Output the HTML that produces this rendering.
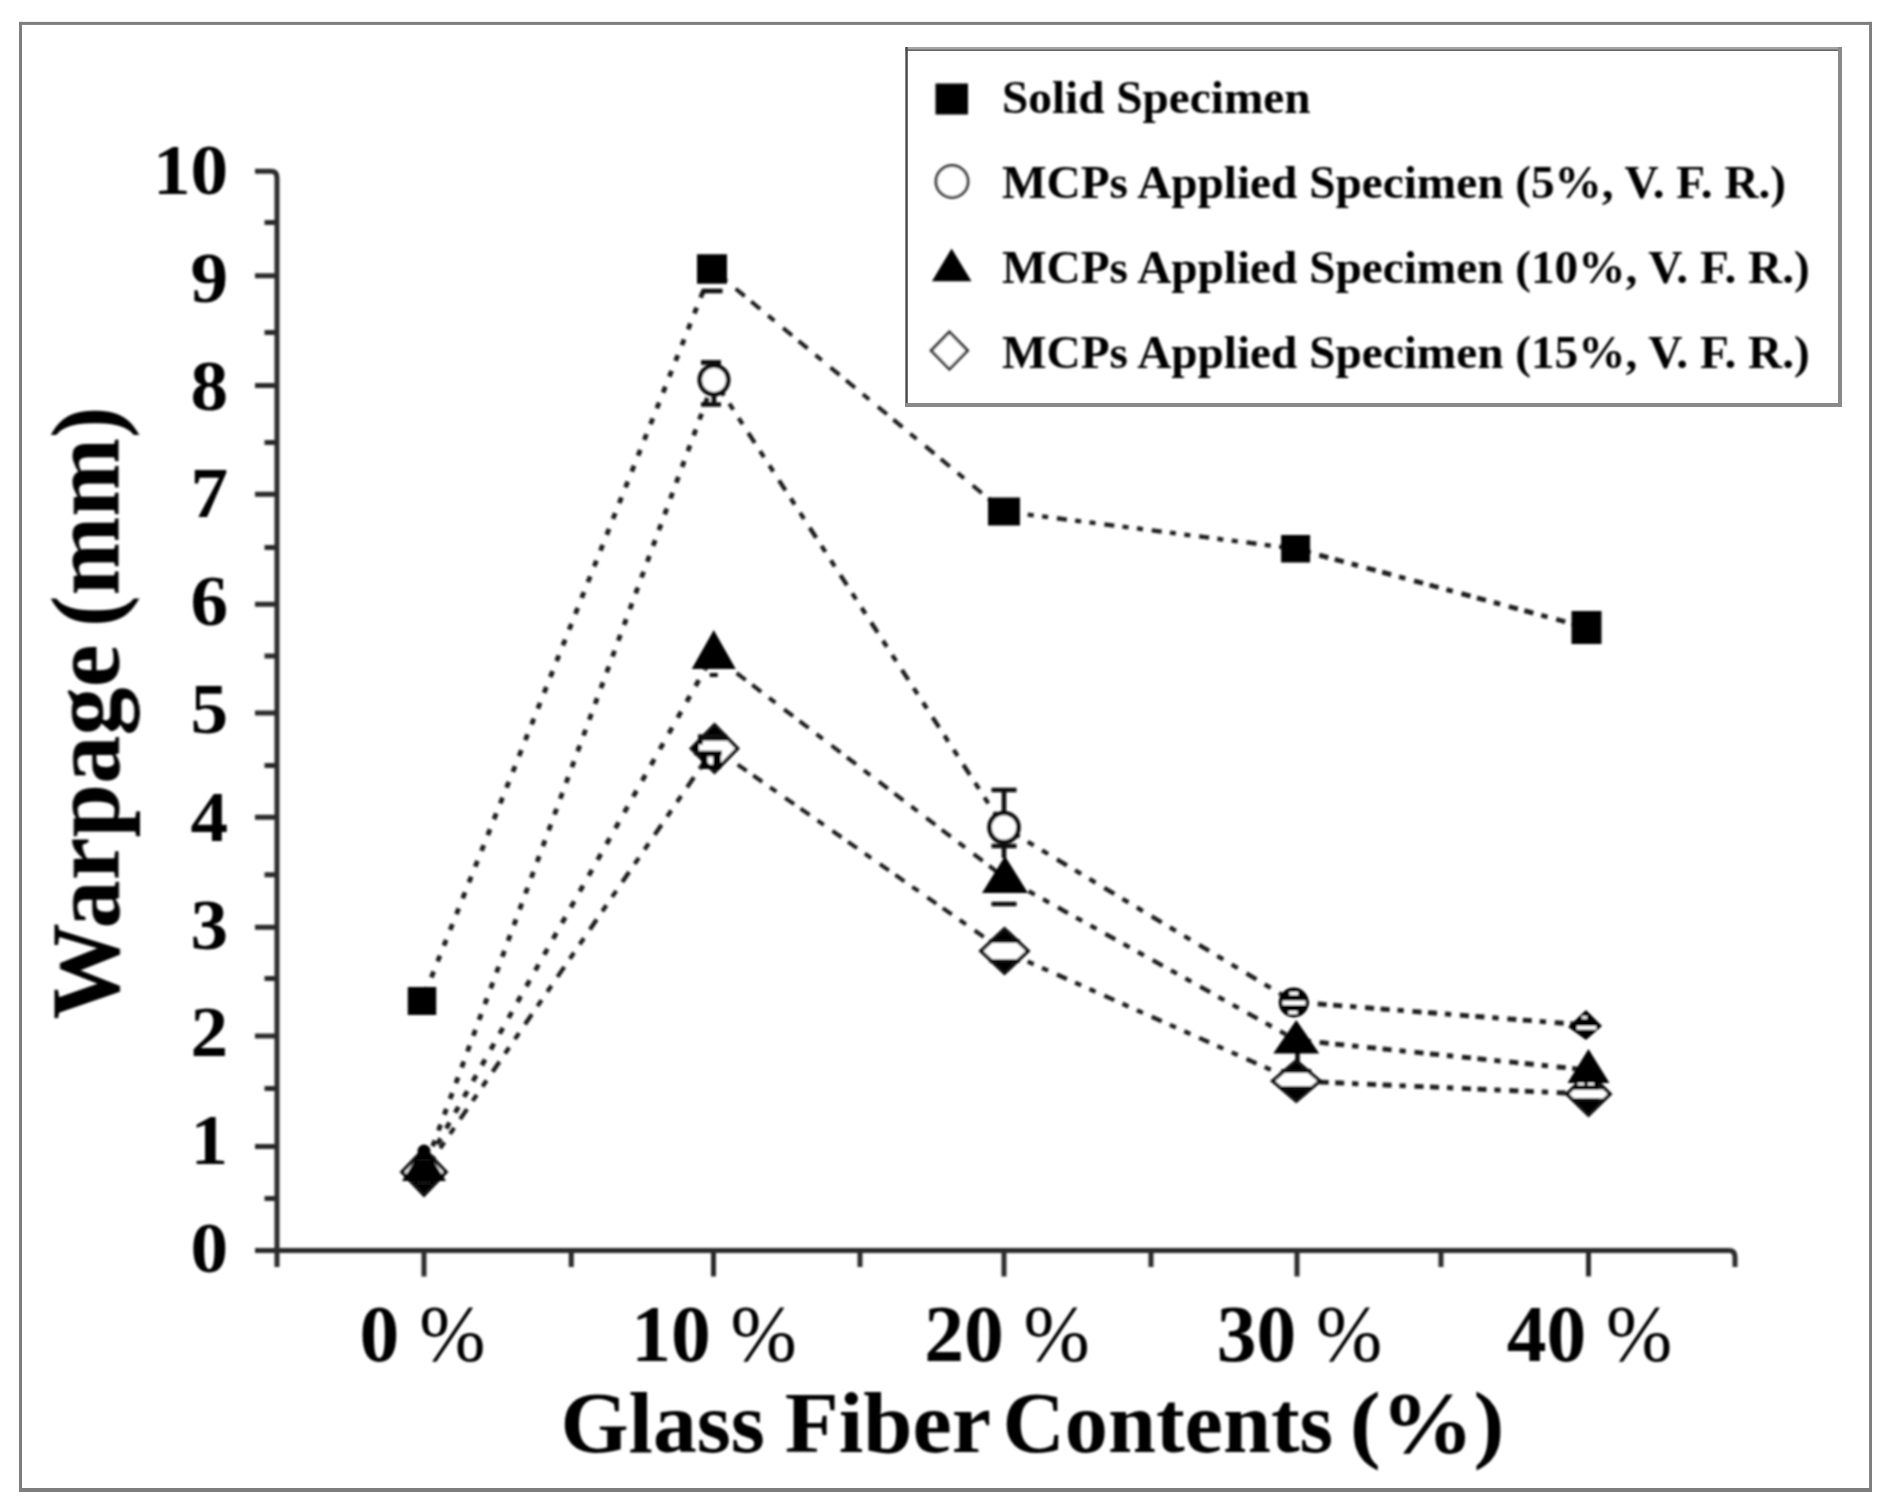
<!DOCTYPE html>
<html lang="en"><head><meta charset="utf-8"><title>Warpage vs Glass Fiber Contents</title>
<style>html,body{margin:0;padding:0;background:#fff;}body{width:1888px;height:1509px;overflow:hidden;}svg{display:block;}text{font-family:"Liberation Serif",serif;font-weight:bold;fill:#000;}</style>
</head><body>
<svg width="1888" height="1509" viewBox="0 0 1888 1509">
<defs><filter id="soft" filterUnits="userSpaceOnUse" x="0" y="0" width="1888" height="1509"><feGaussianBlur stdDeviation="0.85"/></filter></defs>
<rect x="0" y="0" width="1888" height="1509" fill="#ffffff"/>
<g id="frame" fill="#7e7e7e"><rect x="19" y="21.9" width="1853" height="3"/><rect x="19" y="21.9" width="3" height="1470"/><rect x="1869.1" y="21.9" width="2.9" height="1470"/><rect x="19" y="1488" width="1853" height="4"/></g>
<g id="legendbox"><rect x="905.3" y="47" width="936.7" height="360" fill="#fff"/><rect x="905.3" y="47" width="936.7" height="2.2" fill="#a6a6a6"/><rect x="905.3" y="49.2" width="936.7" height="1.8" fill="#666"/><rect x="905.3" y="47" width="2.5" height="360" fill="#4d4d4d"/><rect x="1838" y="47" width="4" height="360" fill="#8a8a8a"/><rect x="905.3" y="403" width="936.7" height="4" fill="#8a8a8a"/></g>
<g id="chart" filter="url(#soft)">
<g id="axes" stroke="#2a2a2a" stroke-width="5" fill="none" stroke-linecap="butt">
<path d="M255 171.3 H271 Q277 171.3 277 178 V1267"/>
<path d="M255 1250.5 H1729 Q1735 1250.5 1735 1257 V1267"/>
<line x1="255" y1="275.75" x2="277" y2="275.75"/>
<line x1="255" y1="385.5" x2="277" y2="385.5"/>
<line x1="255" y1="494.25" x2="277" y2="494.25"/>
<line x1="255" y1="604.25" x2="277" y2="604.25"/>
<line x1="255" y1="713" x2="277" y2="713"/>
<line x1="255" y1="817.25" x2="277" y2="817.25"/>
<line x1="255" y1="927.25" x2="277" y2="927.25"/>
<line x1="255" y1="1036" x2="277" y2="1036"/>
<line x1="255" y1="1146.5" x2="277" y2="1146.5"/>
<line x1="264.5" y1="222.5" x2="277" y2="222.5"/>
<line x1="264.5" y1="332.5" x2="277" y2="332.5"/>
<line x1="264.5" y1="442.5" x2="277" y2="442.5"/>
<line x1="264.5" y1="547.5" x2="277" y2="547.5"/>
<line x1="264.5" y1="656" x2="277" y2="656"/>
<line x1="264.5" y1="765.5" x2="277" y2="765.5"/>
<line x1="264.5" y1="874.75" x2="277" y2="874.75"/>
<line x1="264.5" y1="978.5" x2="277" y2="978.5"/>
<line x1="264.5" y1="1088.5" x2="277" y2="1088.5"/>
<line x1="264.5" y1="1198.5" x2="277" y2="1198.5"/>
<line x1="424" y1="1250.5" x2="424" y2="1276.5"/>
<line x1="713.5" y1="1250.5" x2="713.5" y2="1276.5"/>
<line x1="1004" y1="1250.5" x2="1004" y2="1276.5"/>
<line x1="1297" y1="1250.5" x2="1297" y2="1276.5"/>
<line x1="1588.5" y1="1250.5" x2="1588.5" y2="1276.5"/>
<line x1="571.25" y1="1250.5" x2="571.25" y2="1267"/>
<line x1="860" y1="1250.5" x2="860" y2="1267"/>
<line x1="1151" y1="1250.5" x2="1151" y2="1267"/>
<line x1="1441" y1="1250.5" x2="1441" y2="1267"/>
</g>
<g id="ylabels" font-size="71" text-anchor="end">
<text transform="translate(228.2 1271.9) scale(1.06 1)">0</text>
<text transform="translate(228.2 1164.1) scale(1.06 1)">1</text>
<text transform="translate(228.2 1056.3) scale(1.06 1)">2</text>
<text transform="translate(228.2 948.5) scale(1.06 1)">3</text>
<text transform="translate(228.2 840.7) scale(1.06 1)">4</text>
<text transform="translate(228.2 732.9) scale(1.06 1)">5</text>
<text transform="translate(228.2 625.1) scale(1.06 1)">6</text>
<text transform="translate(228.2 517.3) scale(1.06 1)">7</text>
<text transform="translate(228.2 409.5) scale(1.06 1)">8</text>
<text transform="translate(228.2 301.7) scale(1.06 1)">9</text>
<text transform="translate(228.2 193.9) scale(1.06 1)">10</text>
</g>
<g id="xlabels" font-size="79.5" text-anchor="middle">
<text x="422.5" y="1361" xml:space="preserve">0<tspan font-weight="normal"> %</tspan></text>
<text x="714" y="1361" xml:space="preserve">10<tspan font-weight="normal"> %</tspan></text>
<text x="1007" y="1361" xml:space="preserve">20<tspan font-weight="normal"> %</tspan></text>
<text x="1299.5" y="1361" xml:space="preserve">30<tspan font-weight="normal"> %</tspan></text>
<text x="1589.5" y="1361" xml:space="preserve">40<tspan font-weight="normal"> %</tspan></text>
</g>
<text id="xtitle" y="1452" font-size="86" xml:space="preserve"><tspan x="560.42" textLength="204.59" lengthAdjust="spacingAndGlyphs">Glass</tspan> <tspan x="784.73" textLength="204.66" lengthAdjust="spacingAndGlyphs">Fiber</tspan> <tspan x="1002.49" textLength="330.71" lengthAdjust="spacingAndGlyphs">Contents</tspan> <tspan x="1349.68" textLength="154.87" lengthAdjust="spacingAndGlyphs">(%)</tspan></text>
<text id="ytitle" transform="translate(118.5 1021) rotate(-90)" font-size="97" xml:space="preserve"><tspan x="1.51" textLength="374.93" lengthAdjust="spacingAndGlyphs">Warpage</tspan> <tspan x="394.10" textLength="220.51" lengthAdjust="spacingAndGlyphs">(mm)</tspan></text>
<g id="lines" stroke="#1a1a1a" fill="none">
<line x1="422" y1="1001" x2="712" y2="269" stroke-width="4.8" stroke-dasharray="6.24 10.76" stroke-dashoffset="-8.50"/>
<line x1="712" y1="269" x2="1004" y2="511.5" stroke-width="4.0" stroke-dasharray="11.70 8.45 11.70 10.27 8.19 11.31" stroke-dashoffset="-30.81"/>
<line x1="1004" y1="511.5" x2="1295.6" y2="548.75" stroke-width="4.3" stroke-dasharray="6.05 8.47 6.05 8.87 10.08 8.27" stroke-dashoffset="-23.89"/>
<line x1="1295.6" y1="548.75" x2="1586.5" y2="627.5" stroke-width="4.8" stroke-dasharray="9.32 6.73 9.32 8.18 6.53 9.01" stroke-dashoffset="-24.55"/>
<line x1="424" y1="1170" x2="714" y2="380" stroke-width="4.8" stroke-dasharray="6.18 10.65" stroke-dashoffset="-8.42"/>
<line x1="714" y1="380" x2="1004" y2="827.5" stroke-width="4.3" stroke-dasharray="7.15 10.01 7.15 10.49 11.92 9.77" stroke-dashoffset="-28.24"/>
<line x1="1004" y1="827.5" x2="1294" y2="1002" stroke-width="4.3" stroke-dasharray="7.00 9.80 7.00 10.27 11.67 9.57" stroke-dashoffset="-27.66"/>
<line x1="1294" y1="1002" x2="1586" y2="1025" stroke-width="4.8" stroke-dasharray="9.03 6.52 9.03 7.92 6.32 8.73" stroke-dashoffset="-23.77"/>
<line x1="424" y1="1168" x2="713" y2="655" stroke-width="4.8" stroke-dasharray="6.66 11.48" stroke-dashoffset="-9.07"/>
<line x1="713" y1="655" x2="1005" y2="878" stroke-width="4.0" stroke-dasharray="11.32 8.18 11.32 9.94 7.93 10.95" stroke-dashoffset="-29.82"/>
<line x1="1005" y1="878" x2="1296" y2="1040" stroke-width="4.3" stroke-dasharray="6.87 9.61 6.87 10.07 11.45 9.39" stroke-dashoffset="-27.13"/>
<line x1="1296" y1="1040" x2="1588" y2="1070" stroke-width="4.8" stroke-dasharray="9.05 6.53 9.05 7.94 6.33 8.75" stroke-dashoffset="-23.82"/>
<line x1="424" y1="1172" x2="714" y2="748" stroke-width="4.3" stroke-dasharray="7.27 10.18 7.27 10.66 12.12 9.93" stroke-dashoffset="-28.71"/>
<line x1="714" y1="748" x2="1004" y2="951" stroke-width="4.0" stroke-dasharray="10.99 7.93 10.99 9.64 7.69 10.62" stroke-dashoffset="-28.93"/>
<line x1="1004" y1="951" x2="1296" y2="1081" stroke-width="4.3" stroke-dasharray="6.57 9.19 6.57 9.63 10.95 8.98" stroke-dashoffset="-25.94"/>
<line x1="1296" y1="1081" x2="1588" y2="1094" stroke-width="4.8" stroke-dasharray="9.01 6.51 9.01 7.91 6.31 8.71" stroke-dashoffset="-23.72"/>
</g>
<g id="markers">
<path d="M424 1149 L446 1172 L424 1195 L402 1172 Z" fill="#fff" stroke="#0d0d0d" stroke-width="3.6"/><path d="M424 1149 L434.5 1160 H413.5 Z M424 1195 L437.4 1181 H410.6 Z" fill="#000" stroke="#0d0d0d" stroke-width="3"/>
<circle cx="424" cy="1166" r="8" fill="#fff" stroke="#0d0d0d" stroke-width="4.6"/>
<path d="M424 1146 L446 1181 H402 Z" fill="#000"/>
<circle cx="424" cy="1151" r="6.5" fill="#000"/>
<path d="M417.0 1160 H431.0M417.0 1184 H431.0" stroke="#0d0d0d" stroke-width="3" fill="none"/>
<path d="M701.5 291 H722.5" stroke="#0d0d0d" stroke-width="4.6" fill="none"/>
<path d="M701.0 362.5 H721.0M714 362.5 V366M714 394 V404.5M701.0 404.5 H721.0" stroke="#0d0d0d" stroke-width="4.6" fill="none"/>
<circle cx="714" cy="380" r="14.2" fill="#fff" stroke="#0d0d0d" stroke-width="4.6"/>
<path d="M701.0 362.5 H721.0" stroke="#0d0d0d" stroke-width="4.6" fill="none"/>
<path d="M714.5 725.0 L737.5 748.5 L714.5 772.0 L691.5 748.5 Z" fill="#fff" stroke="#0d0d0d" stroke-width="3.6"/><path d="M714.5 725.0 L725.3 736 H703.7 Z M714.5 772.0 L720.4 766 H708.6 Z" fill="#000" stroke="#0d0d0d" stroke-width="3"/>
<path d="M691.5 748.5 L703 738 V744.5 H699 V753 H703 V758 Z" fill="#000"/>
<path d="M698.0 737.5 H727.0" stroke="#0d0d0d" stroke-width="6.5" fill="none"/>
<path d="M694.0 753 H722.0" stroke="#0d0d0d" stroke-width="4.6" fill="none"/>
<path d="M701.5 753 H721 V769 H701.5 Z M707.5 756.5 H713 V765 H707.5 Z" fill="#000" fill-rule="evenodd"/>
<path d="M713.75 630 L735.75 669 H691.75 Z" fill="#000"/>
<path d="M709.75 675 H717.75" stroke="#0d0d0d" stroke-width="4" fill="none"/>
<path d="M991.5 790 H1016.5M1004 790 V813" stroke="#0d0d0d" stroke-width="4.6" fill="none"/>
<circle cx="1004" cy="827.5" r="14.5" fill="#fff" stroke="#0d0d0d" stroke-width="4.6"/>
<path d="M991.5 846 H1016.5M1004 846 V858M991.5 904 H1016.5" stroke="#0d0d0d" stroke-width="4.6" fill="none"/>
<path d="M1005 856 L1028 893 H982 Z" fill="#000"/>
<path d="M1004.5 929 L1028.0 951 L1004.5 973 L981.0 951 Z" fill="#fff" stroke="#0d0d0d" stroke-width="3.6"/><path d="M1004.5 929 L1017.3 941 H991.7 Z M1004.5 973 L1017.3 961 H991.7 Z" fill="#000" stroke="#0d0d0d" stroke-width="3"/>
<path d="M989.5 941 H1019.5M989.5 961 H1019.5" stroke="#0d0d0d" stroke-width="4.2" fill="none"/>
<circle cx="1293.75" cy="1002.5" r="15" fill="#000"/>
<path d="M1282.5 1002.8 H1305.5" stroke="#fff" stroke-width="4.4"/><path d="M1289.5 993.5 H1298 M1288.5 1012.5 H1297.5" stroke="#fff" stroke-width="3"/>
<path d="M1297.5 1052 V1063" stroke="#0d0d0d" stroke-width="4.6" fill="none"/>
<path d="M1296.25 1020 L1319.25 1053.5 H1273.25 Z" fill="#000"/>
<path d="M1296.25 1061 L1319.75 1081 L1296.25 1101 L1272.75 1081 Z" fill="#fff" stroke="#0d0d0d" stroke-width="3.6"/><path d="M1296.25 1061 L1308.0 1071 H1284.5 Z M1296.25 1101 L1311.5 1088 H1281.0 Z" fill="#000" stroke="#0d0d0d" stroke-width="3"/>
<path d="M1281.25 1071 H1311.25M1281.25 1088 H1311.25" stroke="#0d0d0d" stroke-width="4.2" fill="none"/>
<path d="M1586 1010 L1602 1026 L1586 1040 L1568 1027 Z" fill="#000"/>
<path d="M1577 1027.8 H1596" stroke="#fff" stroke-width="3.6"/><path d="M1582 1017.5 H1587" stroke="#fff" stroke-width="2.6"/>
<path d="M1588.5 1073 L1610.0 1094 L1588.5 1115 L1567.0 1094 Z" fill="#fff" stroke="#0d0d0d" stroke-width="3.6"/><path d="M1588.5 1073 L1603.9 1088 H1573.1 Z M1588.5 1115 L1603.9 1100 H1573.1 Z" fill="#000" stroke="#0d0d0d" stroke-width="3"/>
<path d="M1573.0 1088 H1599.0M1573.0 1100 H1599.0" stroke="#0d0d0d" stroke-width="4.2" fill="none"/>
<path d="M1588.5 1049 L1609.5 1083 H1567.5 Z" fill="#000"/>
<path d="M1578 1084 H1584 M1588 1084 H1594" stroke="#fff" stroke-width="2.4"/>
<rect x="407.75" y="987.0" width="28.5" height="28" fill="#000"/>
<rect x="697.0" y="254.25" width="30" height="29.5" fill="#000"/>
<rect x="988.0" y="497.5" width="32" height="28" fill="#000"/>
<rect x="1281.1" y="535.0" width="29" height="27.5" fill="#000"/>
<rect x="1571.5" y="611.0" width="30" height="33" fill="#000"/>
</g>
<g id="legend">
<rect x="935.5" y="83.5" width="32.5" height="31" fill="#000"/>
<circle cx="952" cy="181.5" r="16" fill="#fff" stroke="#383838" stroke-width="3"/>
<path d="M951.6 248.5 L971.5 281.3 H932 Z" fill="#000"/>
<path d="M949.4 332 L967.6 350.6 L949.4 369.2 L931.2 350.6 Z" fill="#fff" stroke="#383838" stroke-width="3"/>
<g font-size="47.25">
<text x="1002" y="113">Solid Specimen</text>
<text x="1002" y="198">MCPs Applied Specimen (5%, V. F. R.)</text>
<text x="1002" y="283">MCPs Applied Specimen (10%, V. F. R.)</text>
<text x="1002" y="368">MCPs Applied Specimen (15%, V. F. R.)</text>
</g></g>
</g>
</svg>
</body></html>
